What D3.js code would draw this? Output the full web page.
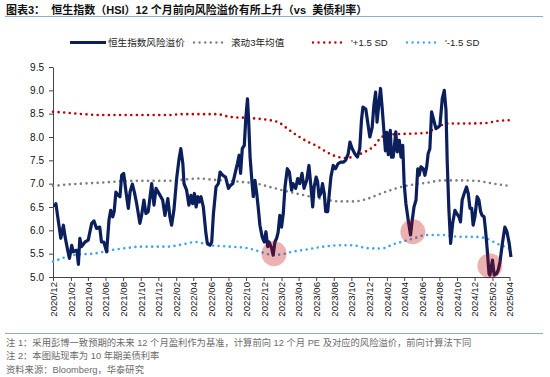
<!DOCTYPE html>
<html>
<head>
<meta charset="utf-8">
<script src="https://cdn.jsdelivr.net/npm/d3@7"></script>
<style>
  body { margin: 0; background: #fff; }
  svg { display: block; }
  text { font-family: "Liberation Sans", Arial, "Noto Sans CJK SC", sans-serif; }
</style>
</head>
<body>
<script>
// 恒生指数风险溢价 (weekly)
var premium = [
  ["2020-12-05",6.50],["2020-12-11",6.57],["2020-12-19",6.22],["2020-12-28",5.83],
  ["2021-01-06",6.11],["2021-01-12",5.86],["2021-01-21",5.57],["2021-01-27",5.40],
  ["2021-02-04",5.68],["2021-02-09",5.54],["2021-02-18",5.57],["2021-02-22",5.57],
  ["2021-02-27",5.27],["2021-03-04",5.83],["2021-03-10",5.65],["2021-03-22",5.75],
  ["2021-04-02",5.79],["2021-04-14",6.15],["2021-04-22",6.20],["2021-05-01",6.04],
  ["2021-05-12",6.07],["2021-05-18",5.75],["2021-05-26",5.75],["2021-06-05",5.54],
  ["2021-06-13",6.22],["2021-06-19",6.43],["2021-06-26",6.29],["2021-07-01",6.40],
  ["2021-07-07",6.82],["2021-07-15",6.75],["2021-07-21",6.72],["2021-07-27",7.18],
  ["2021-08-03",7.22],["2021-08-11",6.82],["2021-08-19",6.47],["2021-08-25",6.82],
  ["2021-09-02",6.99],["2021-09-09",6.82],["2021-09-17",6.57],["2021-09-28",6.15],
  ["2021-10-04",6.32],["2021-10-12",6.65],["2021-10-19",6.36],["2021-10-27",6.40],
  ["2021-11-08",7.00],["2021-11-16",6.54],["2021-11-23",6.90],["2021-12-07",6.75],
  ["2021-12-16",6.65],["2021-12-24",6.32],["2022-01-03",6.68],["2022-01-10",6.29],
  ["2022-01-16",6.11],["2022-01-24",6.43],["2022-02-03",7.14],["2022-02-11",7.54],
  ["2022-02-17",7.75],["2022-02-24",7.43],["2022-02-28",7.00],["2022-03-09",6.86],
  ["2022-03-17",6.54],["2022-03-24",6.75],["2022-03-30",6.57],["2022-04-05",6.79],
  ["2022-04-11",6.50],["2022-04-17",6.72],["2022-04-22",6.61],["2022-04-28",6.72],
  ["2022-05-06",6.50],["2022-05-15",5.93],["2022-05-20",5.72],["2022-05-29",5.68],
  ["2022-06-04",5.75],["2022-06-10",6.36],["2022-06-19",6.93],["2022-06-27",7.00],
  ["2022-07-03",7.25],["2022-07-12",7.18],["2022-07-22",7.14],["2022-08-01",6.90],
  ["2022-08-09",6.97],["2022-08-16",7.00],["2022-08-24",7.22],["2022-09-01",7.43],
  ["2022-09-07",7.61],["2022-09-12",7.22],["2022-09-18",7.75],["2022-09-25",7.82],
  ["2022-09-30",8.39],["2022-10-06",8.82],["2022-10-10",8.36],["2022-10-15",7.57],
  ["2022-10-22",7.00],["2022-10-26",6.72],["2022-11-01",7.07],["2022-11-07",6.79],
  ["2022-11-12",6.50],["2022-11-18",6.11],["2022-11-26",5.86],["2022-12-03",5.75],
  ["2022-12-09",5.97],["2022-12-15",5.65],["2022-12-20",5.75],["2022-12-29",5.61],
  ["2023-01-03",5.47],["2023-01-09",5.75],["2023-01-15",5.83],["2023-01-20",5.95],
  ["2023-01-26",6.32],["2023-02-01",6.07],["2023-02-07",6.36],["2023-02-13",6.93],
  ["2023-02-21",7.32],["2023-02-28",7.25],["2023-03-08",6.86],["2023-03-13",7.00],
  ["2023-03-22",6.90],["2023-03-29",7.11],["2023-04-05",7.00],["2023-04-13",7.22],
  ["2023-04-20",6.90],["2023-04-29",7.07],["2023-05-07",7.39],["2023-05-14",6.93],
  ["2023-05-20",6.50],["2023-05-25",6.93],["2023-06-01",7.14],["2023-06-06",7.04],
  ["2023-06-11",6.72],["2023-06-17",6.79],["2023-06-23",7.00],["2023-06-29",6.79],
  ["2023-07-04",6.40],["2023-07-11",6.40],["2023-07-16",6.75],["2023-07-22",7.14],
  ["2023-07-30",7.39],["2023-08-07",7.32],["2023-08-16",7.43],["2023-08-25",7.46],
  ["2023-09-03",7.46],["2023-09-11",7.50],["2023-09-20",7.64],["2023-09-26",7.89],
  ["2023-10-04",7.75],["2023-10-13",7.64],["2023-10-22",7.57],["2023-10-30",7.75],
  ["2023-11-05",8.36],["2023-11-10",8.64],["2023-11-20",8.60],["2023-12-04",8.00],
  ["2023-12-12",8.20],["2023-12-18",8.68],["2023-12-24",8.96],["2023-12-29",8.32],
  ["2024-01-04",8.70],["2024-01-10",9.04],["2024-01-16",8.60],["2024-01-22",8.11],
  ["2024-01-27",7.70],["2024-02-01",8.10],["2024-02-06",7.62],["2024-02-13",8.14],
  ["2024-02-17",7.57],["2024-02-23",7.57],["2024-03-03",8.11],["2024-03-08",7.68],
  ["2024-03-15",7.93],["2024-03-21",7.57],["2024-03-27",7.82],["2024-04-01",7.00],
  ["2024-04-07",6.57],["2024-04-15",6.22],["2024-04-23",5.90],["2024-04-29",6.22],
  ["2024-05-05",6.50],["2024-05-12",6.65],["2024-05-18",7.32],["2024-05-23",7.18],
  ["2024-05-29",7.36],["2024-06-06",7.32],["2024-06-12",7.18],["2024-06-18",7.36],
  ["2024-06-23",7.64],["2024-06-29",7.75],["2024-07-05",8.54],["2024-07-11",8.40],
  ["2024-07-20",8.18],["2024-07-28",8.21],["2024-08-03",8.25],["2024-08-11",8.82],
  ["2024-08-18",9.00],["2024-08-24",8.57],["2024-08-28",7.50],["2024-09-03",6.43],
  ["2024-09-09",5.72],["2024-09-16",6.15],["2024-09-24",6.43],["2024-09-30",6.36],
  ["2024-10-08",6.29],["2024-10-13",6.18],["2024-10-19",6.65],["2024-10-26",6.79],
  ["2024-11-03",6.93],["2024-11-09",6.79],["2024-11-15",6.47],["2024-11-21",6.47],
  ["2024-11-26",6.11],["2024-12-02",6.29],["2024-12-10",6.72],["2024-12-16",6.65],
  ["2024-12-22",6.40],["2024-12-27",6.32],["2025-01-03",6.29],["2025-01-08",6.00],
  ["2025-01-14",5.57],["2025-01-20",5.07],["2025-01-23",5.04],["2025-02-01",5.36],
  ["2025-02-07",5.04],["2025-02-15",5.07],["2025-02-21",5.15],["2025-02-27",5.32],
  ["2025-03-08",5.75],["2025-03-16",6.07],["2025-03-23",5.97],["2025-03-31",5.72],
  ["2025-04-06",5.43]
];

// 滚动3年均值
var rollMean = [
  ["2020-12-01",6.95],["2021-01-17",6.98],["2021-05-12",7.02],["2021-09-05",7.06],
  ["2021-12-30",7.06],["2022-04-24",7.11],["2022-05-29",7.09],["2022-09-10",7.04],
  ["2022-11-07",7.00],["2023-01-03",6.91],["2023-03-02",6.82],["2023-04-29",6.74],
  ["2023-06-25",6.67],["2023-08-22",6.62],["2023-10-07",6.62],["2023-11-23",6.67],
  ["2023-12-27",6.75],["2024-02-23",6.88],["2024-04-21",6.97],["2024-06-18",7.02],
  ["2024-08-14",7.07],["2024-10-11",7.07],["2024-12-08",7.06],["2025-02-04",7.00],
  ["2025-04-06",6.95]
];

// '+1.5 SD
var upperSD = [
  ["2020-12-01",8.54],["2021-01-17",8.52],["2021-03-16",8.49],["2021-05-12",8.47],
  ["2021-09-05",8.47],["2021-12-30",8.47],["2022-02-25",8.49],["2022-04-24",8.49],
  ["2022-06-21",8.49],["2022-08-07",8.43],["2022-10-03",8.41],["2022-12-11",8.37],
  ["2023-01-20",8.32],["2023-02-19",8.19],["2023-03-25",8.04],["2023-04-29",7.91],
  ["2023-06-02",7.81],["2023-07-07",7.68],["2023-08-11",7.58],["2023-09-14",7.55],
  ["2023-10-19",7.61],["2023-11-23",7.70],["2023-12-21",7.82],["2024-01-14",8.00],
  ["2024-02-23",8.06],["2024-04-21",8.07],["2024-06-18",8.09],["2024-07-22",8.21],
  ["2024-09-07",8.29],["2024-11-15",8.29],["2025-01-12",8.30],["2025-02-15",8.34],
  ["2025-04-06",8.36]
];

// '-1.5 SD
var lowerSD = [
  ["2020-12-01",5.33],["2021-01-17",5.43],["2021-02-21",5.48],["2021-04-19",5.50],
  ["2021-06-16",5.57],["2021-08-13",5.62],["2021-09-28",5.65],["2021-12-30",5.65],
  ["2022-02-25",5.70],["2022-04-10",5.75],["2022-05-29",5.68],["2022-08-07",5.65],
  ["2022-10-03",5.62],["2022-11-15",5.55],["2023-01-03",5.47],["2023-02-05",5.49],
  ["2023-03-10",5.54],["2023-05-01",5.59],["2023-06-25",5.65],["2023-08-22",5.68],
  ["2023-10-07",5.68],["2023-11-23",5.62],["2024-01-14",5.61],["2024-02-23",5.70],
  ["2024-04-01",5.77],["2024-05-01",5.82],["2024-06-18",5.90],["2024-08-10",5.90],
  ["2024-10-11",5.86],["2024-12-08",5.86],["2025-01-12",5.82],["2025-02-15",5.72],
  ["2025-04-06",5.60]
];

// highlighted lows (pink circles)
var highlights = [["2023-01-06",5.50],["2024-05-01",5.97],["2025-01-23",5.24]];

var xTickLabels = ["2020/12","2021/02","2021/04","2021/06","2021/08","2021/10","2021/12",
  "2022/02","2022/04","2022/06","2022/08","2022/10","2022/12","2023/02","2023/04","2023/06",
  "2023/08","2023/10","2023/12","2024/02","2024/04","2024/06","2024/08","2024/10","2024/12",
  "2025/02","2025/04"];
var yTicks = [5.0, 5.5, 6.0, 6.5, 7.0, 7.5, 8.0, 8.5, 9.0, 9.5];

var legendNames = ["恒生指数风险溢价", "滚动3年均值", "'+1.5 SD", "'-1.5 SD"];

var title = "图表3：  恒生指数（HSI）12 个月前向风险溢价有所上升（vs  美债利率）";
var notes = [
  "注 1：采用彭博一致预期的未来 12 个月盈利作为基准，计算前向 12 个月 PE 及对应的风险溢价，前向计算法下同",
  "注 2：本图贴现率为 10 年期美债利率",
  "资料来源：Bloomberg，华泰研究"
];

var parseDay = d3.timeParse("%Y-%m-%d");
var parseTick = d3.timeParse("%Y/%m");

var W = 550, H = 377;
var svg = d3.select("body").append("svg").attr("width", W).attr("height", H);

var x = d3.scaleTime()
  .domain([parseTick("2020/12"), parseTick("2025/04")])
  .range([53, 509.5]);
var y = d3.scaleLinear().domain([5, 9.5]).range([277, 67]);

// title + rules
svg.append("text")
  .attr("x", 6).attr("y", 13.5)
  .attr("font-size", "11px").attr("font-weight", "bold").attr("fill", "#111")
  .style("font-family", "'Liberation Sans', 'Noto Sans CJK SC', sans-serif")
  .attr("xml:space", "preserve")
  .text(title);
svg.append("line").attr("x1", 5).attr("x2", 543).attr("y1", 16.5).attr("y2", 16.5)
  .attr("stroke", "#8ea9d3").attr("stroke-width", 1);
svg.append("line").attr("x1", 5).attr("x2", 543).attr("y1", 333.5).attr("y2", 333.5)
  .attr("stroke", "#8ea9d3").attr("stroke-width", 1);

svg.selectAll("text.note")
  .data(notes)
  .join("text")
  .attr("class", "note")
  .attr("x", 6)
  .attr("y", (d, i) => 346 + i * 13.4)
  .attr("font-size", "9.3px")
  .attr("fill", "#6b6b6b")
  .text(d => d);

// axes
var xAxis = svg.append("g")
  .attr("transform", "translate(0,277)")
  .call(d3.axisBottom(x)
    .tickValues(xTickLabels.map(parseTick))
    .tickSize(4).tickSizeOuter(0)
    .tickFormat(d3.timeFormat("%Y/%m")));
xAxis.select(".domain").attr("stroke", "#444");
xAxis.selectAll(".tick line").attr("stroke", "#444");
xAxis.selectAll(".tick text")
  .attr("transform", "rotate(-90)")
  .attr("text-anchor", "end")
  .attr("x", -5).attr("y", 0).attr("dy", "0.35em")
  .attr("font-size", "9.6px").attr("fill", "#111");

var yAxis = svg.append("g")
  .attr("transform", "translate(53,0)")
  .call(d3.axisLeft(y).tickValues(yTicks).tickSize(4).tickSizeOuter(0)
    .tickFormat(d3.format(".1f")));
yAxis.select(".domain").attr("stroke", "#444");
yAxis.selectAll(".tick line").attr("stroke", "#444");
yAxis.selectAll(".tick text").attr("x", -9).attr("font-size", "10px").attr("fill", "#111");

// series
function line(curve) {
  return d3.line()
    .x(d => x(parseDay(d[0])))
    .y(d => y(d[1]))
    .curve(curve);
}

var dotted = [
  {data: rollMean, color: "#7f7f7f"},
  {data: upperSD, color: "#c00000"},
  {data: lowerSD, color: "#41a6ee"}
];

svg.append("g").selectAll("path")
  .data(dotted)
  .join("path")
  .attr("d", d => line(d3.curveMonotoneX)(d.data))
  .attr("fill", "none")
  .attr("stroke", d => d.color)
  .attr("stroke-width", 2.6)
  .attr("stroke-linecap", "round")
  .attr("stroke-dasharray", "0 5.6");

svg.append("path")
  .attr("d", line(d3.curveLinear)(premium))
  .attr("fill", "none")
  .attr("stroke", "#0b1f5c")
  .attr("stroke-width", 3.2)
  .attr("stroke-linejoin", "round");

svg.append("g").selectAll("circle")
  .data(highlights)
  .join("circle")
  .attr("cx", d => x(parseDay(d[0])))
  .attr("cy", d => y(d[1]))
  .attr("r", 12.5)
  .attr("fill", "#c00000")
  .attr("fill-opacity", 0.3);

// legend
var legendX = [70, 194, 313, 407];
var legendTextX = [108, 231, 351, 445];
var lg = svg.append("g");
legendNames.forEach(function(name, i) {
  var seg = lg.append("line")
    .attr("x1", legendX[i]).attr("x2", legendX[i] + (i === 0 ? 36 : 31))
    .attr("y1", 42.5).attr("y2", 42.5);
  if (i === 0) {
    seg.attr("stroke", "#0b1f5c").attr("stroke-width", 3.2);
  } else {
    seg.attr("stroke", dotted[i - 1].color).attr("stroke-width", 2.4)
      .attr("stroke-linecap", "round").attr("stroke-dasharray", "0 5.6");
  }
  lg.append("text")
    .attr("x", legendTextX[i]).attr("y", 46)
    .attr("font-size", "9.6px").attr("fill", "#222")
    .text(name);
});
</script>
</body>
</html>
